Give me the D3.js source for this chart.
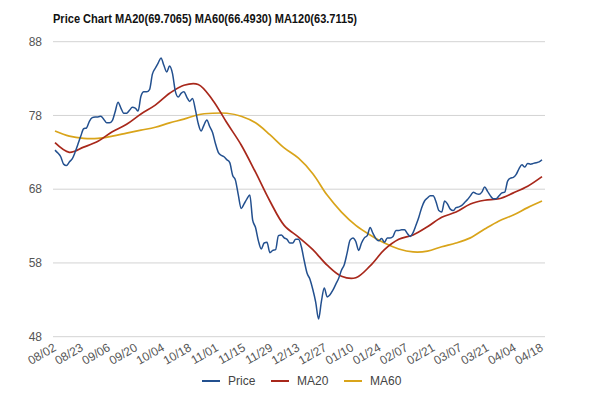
<!DOCTYPE html>
<html>
<head>
<meta charset="utf-8">
<script src="https://cdn.jsdelivr.net/npm/d3@7"></script>
<style>
  body { margin: 0; background: #fff; }
  text { font-family: "Liberation Sans", Arial, sans-serif; }
</style>
</head>
<body>
<svg id="chart"></svg>
<script>
// Chart data
const title = "Price Chart MA20(69.7065) MA60(66.4930) MA120(63.7115)";
const tickLabels = ["08/02", "08/23", "09/06", "09/20", "10/04", "10/18", "11/01", "11/15", "11/29",
  "12/13", "12/27", "01/10", "01/24", "02/07", "02/21", "03/07", "03/21", "04/04", "04/18"];
const yTicks = [48, 58, 68, 78, 88];

// daily closing price, one value per trading day
const price = [
  73.3, 72.9, 72.4, 71.4, 71.2, 71.7, 72.1, 73.0, 74.1, 75.2,
  76.2, 76.3, 77.2, 77.7, 77.8, 77.8, 77.9, 77.5, 77.0, 77.0,
  77.3, 78.5, 79.8, 79.0, 78.3, 78.3, 78.7, 79.1, 79.0, 78.6,
  80.6, 81.2, 81.2, 81.5, 83.6, 84.4, 85.1, 85.8, 84.8, 83.9,
  84.7, 83.7, 81.3, 80.5, 81.0, 81.2, 80.5, 79.9, 80.3, 78.8,
  76.9, 75.9, 76.7, 77.4, 76.5, 75.7, 74.2, 73.0, 72.6, 72.4,
  72.0, 71.6, 69.9, 69.2, 67.2, 65.4, 66.0, 66.7, 67.2, 63.8,
  62.8, 61.0, 59.9, 60.7, 60.8, 59.4, 59.7, 59.8, 61.7, 61.8,
  61.4, 61.2, 60.7, 60.7, 61.2, 61.2, 60.2, 58.3, 56.6, 55.8,
  54.4, 52.7, 50.4, 52.8, 54.6, 53.4, 53.7, 54.3, 55.1, 55.9,
  57.0, 57.8, 59.4, 61.1, 61.4, 60.9, 59.7, 60.7, 61.4, 61.7,
  62.8, 62.0, 61.3, 61.0, 61.3, 60.8, 61.4, 61.4, 61.6, 62.4,
  62.4, 62.5, 62.5, 62.0, 61.6, 62.1, 63.1, 64.2, 65.5, 66.4,
  66.8, 67.1, 67.1, 66.3, 65.1, 64.9, 66.4, 66.0, 65.3, 65.1,
  65.5, 65.6, 65.8, 66.2, 66.6, 67.1, 67.6, 67.4, 67.3, 67.6,
  68.3, 67.7, 67.1, 66.7, 66.7, 67.1, 67.5, 67.6, 69.1, 69.5,
  69.6, 70.0, 70.8, 71.3, 71.0, 71.5, 71.4, 71.5, 71.6, 71.7, 72.0
];

// moving averages, read every 5th trading day
const ma20 = [
  74.3, 73.0, 73.7, 74.5, 75.8, 76.8, 78.2, 79.4, 81.0, 82.1,
  82.2, 80.1, 77.0, 74.0, 70.3, 66.4, 63.1, 61.5, 59.8, 57.7,
  56.2, 56.0, 57.6, 59.8, 61.2, 61.8, 62.9, 64.2, 64.9, 66.0,
  66.5, 66.7, 67.5, 68.4, 69.7
];
const ma60 = [
  75.9, 75.2, 74.9, 74.9, 75.2, 75.6, 76.0, 76.4, 77.0, 77.5,
  78.1, 78.3, 78.3, 77.9, 77.0, 75.4, 73.6, 72.2, 70.1, 67.2,
  64.9, 63.1, 61.8, 60.7, 59.9, 59.5, 59.6, 60.2, 60.7, 61.4,
  62.6, 63.7, 64.5, 65.5, 66.4
];
const maStep = 5;

const series = [
  { name: "Price", values: price.map((v, i) => ({ i: i, v: v })), color: "#23508f", width: 1.5 },
  { name: "MA20", values: ma20.map((v, k) => ({ i: k * maStep, v: v })), color: "#a8281b", width: 1.7 },
  { name: "MA60", values: ma60.map((v, k) => ({ i: k * maStep, v: v })), color: "#d9a41a", width: 1.7 }
];

const width = 600, height = 397;
const svg = d3.select("#chart").attr("width", width).attr("height", height);

const x = d3.scaleLinear().domain([0, price.length - 1]).range([55, 542]);
const xTick = d3.scalePoint().domain(tickLabels).range([55, 542]);
const y = d3.scaleLinear().domain([48, 88]).range([336.7, 41.7]);

// title
svg.append("text")
  .attr("x", 53).attr("y", 23)
  .attr("font-size", 12).attr("font-weight", "bold")
  .attr("fill", "#111")
  .attr("textLength", 304).attr("lengthAdjust", "spacingAndGlyphs")
  .text(title);

// grid lines + y labels
svg.append("g").selectAll("line")
  .data(yTicks).enter().append("line")
  .attr("x1", 53).attr("x2", 545)
  .attr("y1", d => y(d)).attr("y2", d => y(d))
  .attr("stroke", "#d3d3d3").attr("stroke-width", 1);

svg.append("g").selectAll("text")
  .data(yTicks).enter().append("text")
  .attr("x", 42).attr("y", d => y(d))
  .attr("dy", "0.35em")
  .attr("text-anchor", "end")
  .attr("font-size", 12).attr("fill", "#555")
  .text(d => d);

// x labels, slanted
svg.append("g").selectAll("text")
  .data(tickLabels).enter().append("text")
  .attr("transform", d => `translate(${xTick(d) + 2},${350}) rotate(-30)`)
  .attr("text-anchor", "end")
  .attr("font-size", 12).attr("fill", "#555")
  .text(d => d);

// lines
const priceLine = d3.line()
  .x(d => x(d.i))
  .y(d => y(d.v))
  .curve(d3.curveMonotoneX);

const maLine = d3.line()
  .x(d => x(d.i))
  .y(d => y(d.v))
  .curve(d3.curveCatmullRom);

svg.append("g").selectAll("path")
  .data(series.slice().reverse()).enter().append("path")
  .attr("d", d => d.name === "Price" ? priceLine(d.values) : maLine(d.values))
  .attr("fill", "none")
  .attr("stroke", d => d.color)
  .attr("stroke-width", d => d.width)
  .attr("stroke-linejoin", "round");

// legend
const legendX = [202, 271, 344];
const legend = svg.append("g").selectAll("g")
  .data(series).enter().append("g")
  .attr("transform", (d, k) => `translate(${legendX[k]},381)`);

legend.append("line")
  .attr("x1", 0).attr("x2", 18)
  .attr("stroke", d => d.color).attr("stroke-width", 2);

legend.append("text")
  .attr("x", 26).attr("dy", "0.35em")
  .attr("font-size", 12).attr("fill", "#444")
  .text(d => d.name);
</script>
</body>
</html>
